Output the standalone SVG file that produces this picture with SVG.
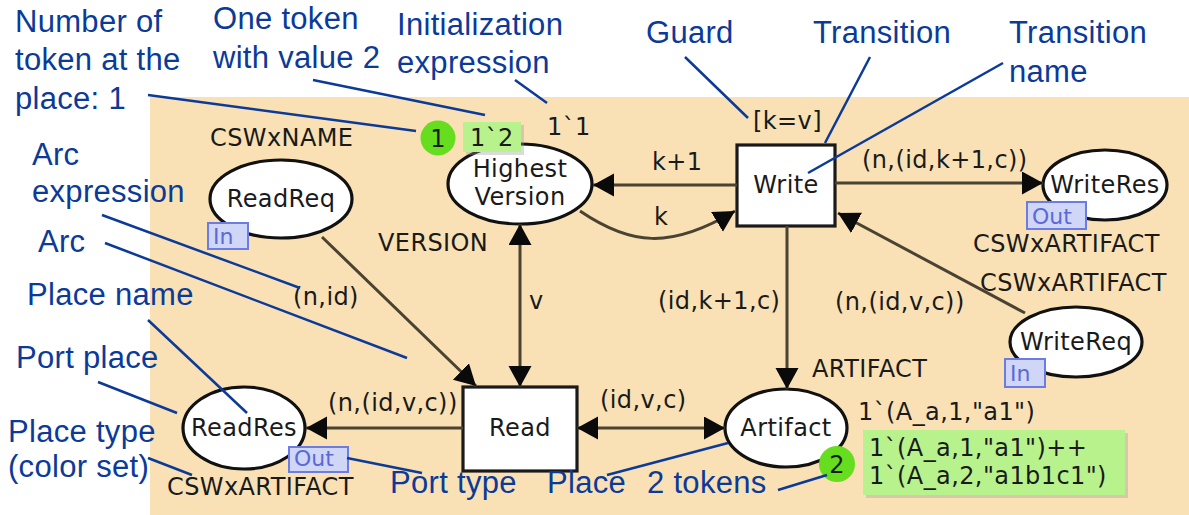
<svg xmlns="http://www.w3.org/2000/svg" width="1189" height="515" viewBox="0 0 1189 515">
<defs>
<marker id="ah" markerUnits="userSpaceOnUse" markerWidth="24" markerHeight="24" refX="21" refY="11.5" orient="auto-start-reverse" viewBox="0 0 24 24">
<path d="M0,0 L21,11.5 L0,23 Z" fill="#0a0a0a"/>
</marker>
</defs>
<style>
.net{font-family:"DejaVu Sans",Verdana,sans-serif;font-size:24px;letter-spacing:0.4px;fill:#1a1a1a}
.c{text-anchor:middle}
.pl{fill:#fff;stroke:#111;stroke-width:3.2}
.tr{fill:#fff;stroke:#1a1a1a;stroke-width:3.2}
.arc{fill:none;stroke:#4a4332;stroke-width:3}
.port{fill:#cfd6f6;stroke:#6c7ce6;stroke-width:2}
.pt{font-family:"DejaVu Sans",Verdana,sans-serif;font-size:22px;fill:#5a6ad8}
.tok{fill:#66dd1e}
.mk{fill:#b7f28c}
.lbl{font-family:"Liberation Sans",Arial,sans-serif;font-size:31px;letter-spacing:0.3px;fill:#0b3a98}
.ld{stroke:#0b3a98;stroke-width:2.5;fill:none}
</style>
<rect x="150" y="97" width="1039" height="418" fill="#f9e1b5"/>

<g id="ReadReq">
<ellipse class="pl" cx="281" cy="199" rx="71" ry="39"/>
<text class="net c" x="281" y="207">ReadReq</text>
<text class="net" x="210" y="146">CSWxNAME</text>
<rect class="port" x="208" y="223" width="40" height="26"/>
<text class="pt" x="213" y="244">In</text>
</g>

<g id="HighestVersion">
<ellipse class="pl" cx="520" cy="184" rx="72" ry="40"/>
<text class="net c" x="520" y="177">Highest</text>
<text class="net c" x="520" y="205">Version</text>
<text class="net" x="547" y="135">1`1</text>
<text class="net" x="378" y="251">VERSION</text>
<circle class="tok" cx="438" cy="138" r="17.5"/>
<text class="net c" x="438" y="147">1</text>
<rect x="466" y="125" width="58" height="30" fill="#999" opacity="0.35"/>
<rect class="mk" x="463" y="122" width="58" height="30"/>
<text class="net" x="470" y="146">1`2</text>
</g>

<g id="Write">
<rect class="tr" x="737" y="145" width="98" height="81"/>
<text class="net c" x="786" y="193">Write</text>
<text class="net" x="753" y="129">[k=v]</text>
</g>

<g id="WriteRes">
<ellipse class="pl" cx="1105" cy="185" rx="62" ry="35"/>
<text class="net c" x="1105" y="193">WriteRes</text>
<rect class="port" x="1027" y="202" width="59" height="27"/>
<text class="pt" x="1032" y="224">Out</text>
<text class="net" x="973" y="252">CSWxARTIFACT</text>
</g>

<g id="WriteReq">
<ellipse class="pl" cx="1076" cy="342" rx="66" ry="35"/>
<text class="net c" x="1076" y="350">WriteReq</text>
<text class="net" x="980" y="291">CSWxARTIFACT</text>
<rect class="port" x="1005" y="359" width="40" height="28"/>
<text class="pt" x="1010" y="381">In</text>
</g>

<g id="Read">
<rect class="tr" x="463" y="387" width="114" height="84"/>
<text class="net c" x="520" y="436">Read</text>
</g>

<g id="ReadRes">
<ellipse class="pl" cx="244" cy="428" rx="61" ry="41"/>
<text class="net c" x="244" y="436">ReadRes</text>
<rect class="port" x="289" y="447" width="59" height="25"/>
<text class="pt" x="294" y="466">Out</text>
<text class="net" x="167" y="495">CSWxARTIFACT</text>
</g>

<g id="Artifact">
<ellipse class="pl" cx="786" cy="428" rx="61" ry="39"/>
<text class="net c" x="786" y="436">Artifact</text>
<text class="net" x="812" y="377">ARTIFACT</text>
<text class="net" x="858" y="420">1`(A_a,1,"a1")</text>
<circle class="tok" cx="837" cy="464" r="18"/>
<text class="net c" x="837" y="473">2</text>
<rect x="866" y="433" width="262" height="65" fill="#999" opacity="0.35"/>
<rect class="mk" x="863" y="430" width="262" height="65"/>
<text class="net" x="869" y="456">1`(A_a,1,"a1")++</text>
<text class="net" x="869" y="484">1`(A_a,2,"a1b1c1")</text>
</g>

<g id="connectors">
<line class="arc" x1="737" y1="185" x2="593" y2="185" marker-end="url(#ah)"/>
<text class="net" x="652" y="170">k+1</text>
<path class="arc" d="M580,211 C630,245 670,250 735,211" marker-end="url(#ah)"/>
<text class="net" x="654" y="225">k</text>
<line class="arc" x1="835" y1="183" x2="1043" y2="183" marker-end="url(#ah)"/>
<text class="net" x="862" y="168">(n,(id,k+1,c))</text>
<line class="arc" x1="1025" y1="313" x2="838" y2="213" marker-end="url(#ah)"/>
<text class="net" x="835" y="310">(n,(id,v,c))</text>
<line class="arc" x1="787" y1="226" x2="787" y2="389" marker-end="url(#ah)"/>
<text class="net" x="658" y="309">(id,k+1,c)</text>
<line class="arc" x1="520" y1="224" x2="520" y2="387" marker-start="url(#ah)" marker-end="url(#ah)"/>
<text class="net" x="529" y="309">v</text>
<line class="arc" x1="322" y1="237" x2="476" y2="386" marker-end="url(#ah)"/>
<text class="net" x="293" y="305">(n,id)</text>
<line class="arc" x1="463" y1="428" x2="306" y2="428" marker-end="url(#ah)"/>
<text class="net" x="328" y="411">(n,(id,v,c))</text>
<line class="arc" x1="577" y1="428" x2="725" y2="428" marker-start="url(#ah)" marker-end="url(#ah)"/>
<text class="net" x="600" y="408">(id,v,c)</text>
</g>

<g id="annotations">
<text class="lbl" x="15" y="32">Number of</text>
<text class="lbl" x="15" y="70">token at the</text>
<text class="lbl" x="15" y="109">place: 1</text>
<text class="lbl" x="213" y="29">One token</text>
<text class="lbl" x="213" y="68">with value 2</text>
<text class="lbl" x="397" y="35">Initialization</text>
<text class="lbl" x="397" y="73">expression</text>
<text class="lbl" x="646" y="43">Guard</text>
<text class="lbl" x="813" y="43">Transition</text>
<text class="lbl" x="1009" y="43">Transition</text>
<text class="lbl" x="1009" y="82">name</text>
<text class="lbl" x="32" y="165">Arc</text>
<text class="lbl" x="32" y="202">expression</text>
<text class="lbl" x="38" y="252">Arc</text>
<text class="lbl" x="27" y="305">Place name</text>
<text class="lbl" x="16" y="368">Port place</text>
<text class="lbl" x="8" y="442">Place type</text>
<text class="lbl" x="8" y="477">(color set)</text>
<text class="lbl" x="390" y="493">Port type</text>
<text class="lbl" x="547" y="493">Place</text>
<text class="lbl" x="647" y="493">2 tokens</text>
<line class="ld" x1="148" y1="95" x2="416" y2="131"/>
<line class="ld" x1="313" y1="80" x2="485" y2="115"/>
<line class="ld" x1="515" y1="80" x2="547" y2="103"/>
<line class="ld" x1="685" y1="57" x2="748" y2="118"/>
<line class="ld" x1="870" y1="57" x2="825" y2="143"/>
<line class="ld" x1="1003" y1="63" x2="808" y2="173"/>
<line class="ld" x1="102" y1="215" x2="300" y2="288"/>
<line class="ld" x1="105" y1="243" x2="407" y2="358"/>
<line class="ld" x1="148" y1="320" x2="247" y2="413"/>
<line class="ld" x1="98" y1="382" x2="177" y2="413"/>
<line class="ld" x1="148" y1="458" x2="192" y2="475"/>
<line class="ld" x1="347" y1="458" x2="422" y2="473"/>
<line class="ld" x1="607" y1="475" x2="728" y2="443"/>
<line class="ld" x1="778" y1="490" x2="827" y2="475"/>
</g>
</svg>
